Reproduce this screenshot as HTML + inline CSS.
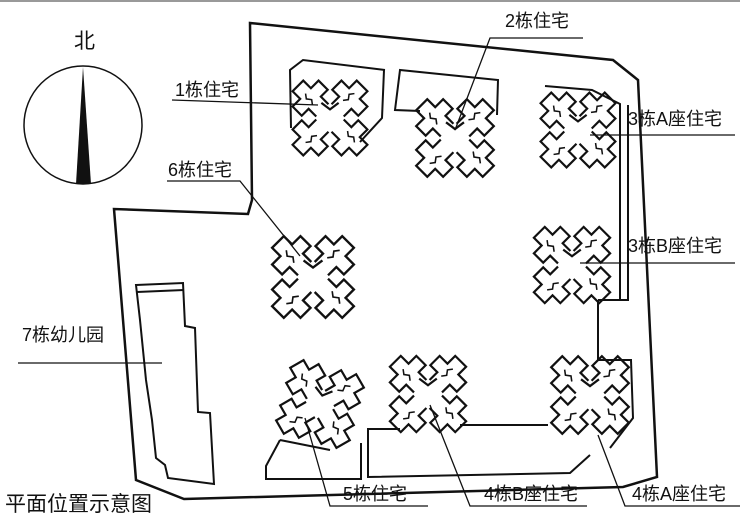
<!DOCTYPE html>
<html><head><meta charset="utf-8">
<style>
html,body{margin:0;padding:0;background:#fff;}
svg{display:block;}
text{font-family:"Liberation Sans","Noto Sans CJK SC",sans-serif;fill:#111;}
</style></head>
<body>
<svg width="740" height="529" viewBox="0 0 740 529" xmlns="http://www.w3.org/2000/svg">
<defs>
<g id="arm" fill="none" stroke="#111" stroke-width="2" stroke-linejoin="miter">
<polyline points="-8,-10 -8,-20 -17,-20 -17,-32 -7,-32 -7,-42 7,-42 7,-32 17,-32 17,-20 8,-20 8,-10"/>
<polyline points="-3,-20 0,-24 -3,-28 0,-32" stroke-width="1.4"/>
</g>
<g id="bld">
<use href="#arm" transform="rotate(45)"/>
<use href="#arm" transform="rotate(135)"/>
<use href="#arm" transform="rotate(225)"/>
<use href="#arm" transform="rotate(315)"/>
<polyline points="-8,-14 0,-8 8,-14" fill="none" stroke="#111" stroke-width="2"/>
</g>
</defs>
<rect x="0" y="0" width="740" height="2" fill="#999"/>
<text x="74" y="48" font-size="21">北</text>
<circle cx="83" cy="125" r="59" fill="none" stroke="#111" stroke-width="1.5"/>
<polygon points="83,67 76,184 91,184" fill="#111"/>
<polygon points="250,23 613,60 638,80 657,477 623,487 184,499 136,480 114,209 248,214 252,200" fill="none" stroke="#111" stroke-width="2.5"/>
<g fill="none" stroke="#111" stroke-width="2">
<polyline points="385,70 303,60 290,70 291,128"/>
<polyline points="384,70 382,118 360,142"/>
<polyline points="497,115 498,80 400,70 395,110 420,111"/>
<polyline points="545,86 592,90 620,104 620,300"/>
<polyline points="628,105 628,300"/>
<polyline points="598,300 629,300"/>
<polyline points="598,300 598,360 629,360"/>
<polyline points="280,440 266,466 266,479 361,479 361,443"/>
<polyline points="280,440 330,450"/>
<polyline points="400,429 368,429 368,477 570,473 590,455"/>
<polyline points="460,425 548,425"/>
<polyline points="605,360 631,360 633,418 610,448"/>
<polygon points="136,285 183,283 185,326 195,328 198,412 210,413 214,484 168,478 165,465 156,458 152,420 146,380 140,320"/>
<polyline points="137,292 184,290"/>
</g>
<use href="#bld" transform="translate(330,118) scale(1.08)"/>
<use href="#bld" transform="translate(455,138) scale(1.12)"/>
<use href="#bld" transform="translate(578,130) scale(1.08)"/>
<use href="#bld" transform="translate(572,265) scale(1.1)"/>
<use href="#bld" transform="translate(313,277) scale(1.18)"/>
<use href="#bld" transform="translate(320,404) rotate(15) scale(1.1)"/>
<use href="#bld" transform="translate(428,394) scale(1.1)"/>
<use href="#bld" transform="translate(590,395) scale(1.12)"/>
<g fill="none" stroke="#111" stroke-width="1.3">
<polyline points="172,100 318,105"/>
<polyline points="583,38 490,38 455,130"/>
<polyline points="590,135 735,135"/>
<polyline points="167,181 240,181 300,256"/>
<polyline points="580,263 735,263"/>
<polyline points="18,363 162,363"/>
<polyline points="305,418 330,506 428,506"/>
<polyline points="430,405 470,506 587,506"/>
<polyline points="598,435 625,506 740,506"/>
</g>
<g font-size="18">
<text x="175" y="96">1栋住宅</text>
<text x="505" y="27">2栋住宅</text>
<text x="628" y="125">3栋A座住宅</text>
<text x="168" y="176">6栋住宅</text>
<text x="628" y="252">3栋B座住宅</text>
<text x="22" y="341">7栋幼儿园</text>
<text x="343" y="500">5栋住宅</text>
<text x="484" y="500">4栋B座住宅</text>
<text x="632" y="500">4栋A座住宅</text>
</g>
<text x="5" y="511" font-size="21">平面位置示意图</text>
</svg>
</body></html>
